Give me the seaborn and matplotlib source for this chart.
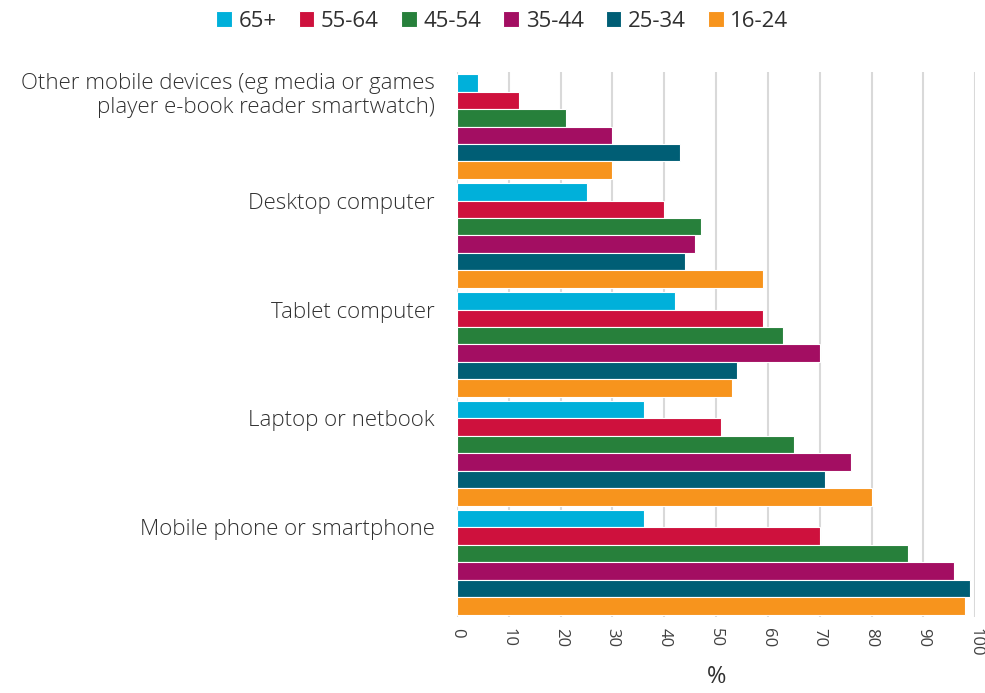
import numpy as np
import pandas as pd
import seaborn as sns
import matplotlib.pyplot as plt

devices = [
    'Other mobile devices (eg media or games\nplayer e-book reader smartwatch)',
    'Desktop computer',
    'Tablet computer',
    'Laptop or netbook',
    'Mobile phone or smartphone',
]
age_groups = ['65+', '55-64', '45-54', '35-44', '25-34', '16-24']
colors = ['#00B0DA', '#CE113D', '#27803B', '#A30E62', '#005E75', '#F7941D']

# values per age group, in device order
v_65 = [4, 25, 42, 36, 36]
v_55 = [12, 40, 59, 51, 70]
v_45 = [21, 47, 63, 65, 87]
v_35 = [30, 46, 70, 76, 96]
v_25 = [43, 44, 54, 71, 99]
v_16 = [30, 59, 53, 80, 98]

rows = []
for age, vals in zip(age_groups, [v_65, v_55, v_45, v_35, v_25, v_16]):
    for dev, v in zip(devices, vals):
        rows.append({'device': dev, 'age': age, 'pct': v})
df = pd.DataFrame(rows)

sns.set_style('white')
plt.rcParams['font.family'] = ['Open Sans', 'DejaVu Sans']

fig = plt.figure(figsize=(9.85, 6.93), dpi=100)
ax = fig.add_axes([0.464, 0.110, 0.526, 0.786])

sns.barplot(data=df, x='pct', y='device', hue='age', order=devices,
            hue_order=age_groups, palette=colors, orient='h', width=0.96,
            saturation=1, edgecolor='white', linewidth=0.8, ax=ax,
            legend=True)

ax.set_xlim(0, 100)
ax.set_ylim(len(devices) - 0.5, -0.5)
ax.set_xticks(range(0, 101, 10))
ax.set_xticklabels([str(t) for t in range(0, 101, 10)], rotation=-90,
                   fontsize=12, color='#404040')
ax.set_yticks(np.arange(len(devices)) - 0.32)
ax.set_yticklabels(devices, fontsize=16, color='#303030', fontweight='light')
ax.tick_params(axis='y', length=0, pad=16)
ax.tick_params(axis='x', length=0, pad=8)
ax.xaxis.grid(True, color='#d9d9d9', linewidth=1.5)
ax.set_axisbelow(True)
for s in ax.spines.values():
    s.set_visible(False)
ax.set_xlabel('%', fontsize=17, color='#303030', labelpad=6)
ax.set_ylabel('')

handles, labels = ax.get_legend_handles_labels()
ax.legend_.remove()
fig.legend(handles, labels, loc='upper center', bbox_to_anchor=(0.51, 1.013),
           ncol=6, frameon=False, fontsize=16, handlelength=0.7,
           handleheight=0.7, handletextpad=0.3, columnspacing=1.0,
           labelcolor='#303030')

fig.savefig('out.png', dpi=100)
